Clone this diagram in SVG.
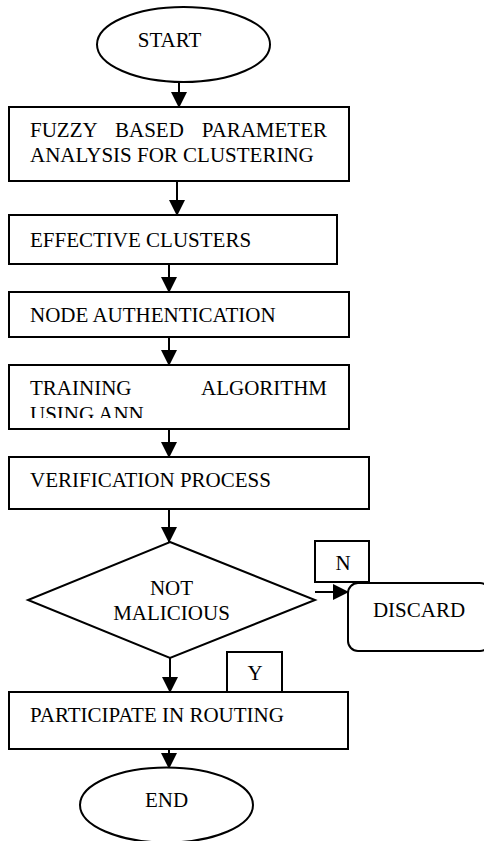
<svg xmlns="http://www.w3.org/2000/svg" width="484" height="841" viewBox="0 0 484 841">
<defs>
<style>
.s{fill:#fff;stroke:#000;stroke-width:2}
.t{font-family:"Liberation Serif","Times New Roman",serif;font-size:21px;fill:#000}
.m{text-anchor:middle}
.c{stroke:#000;stroke-width:2;fill:none}
</style>
<marker id="ah" viewBox="0 0 16 16" refX="15" refY="8" markerWidth="16" markerHeight="16" markerUnits="userSpaceOnUse" orient="auto">
<path d="M0,0 L16,8 L0,16 Z" fill="#000"/>
</marker>
<clipPath id="clipTrain"><rect x="9" y="365" width="340" height="53"/></clipPath>
</defs>
<rect width="484" height="841" fill="#fff"/>
<g id="connectors">
<line class="c" x1="179" y1="82" x2="179" y2="107" marker-end="url(#ah)"/>
<line class="c" x1="177" y1="181" x2="177" y2="215" marker-end="url(#ah)"/>
<line class="c" x1="169" y1="264" x2="169" y2="292" marker-end="url(#ah)"/>
<line class="c" x1="169" y1="337" x2="169" y2="365" marker-end="url(#ah)"/>
<line class="c" x1="169" y1="429" x2="169" y2="457" marker-end="url(#ah)"/>
<line class="c" x1="169" y1="509" x2="169" y2="542" marker-end="url(#ah)"/>
<line class="c" x1="315" y1="592" x2="348" y2="592" marker-end="url(#ah)"/>
<line class="c" x1="170" y1="652" x2="170" y2="692" marker-end="url(#ah)"/>
<line class="c" x1="169" y1="749" x2="169" y2="768" marker-end="url(#ah)"/>
</g>
<g id="start">
<ellipse class="s" cx="183.5" cy="44.5" rx="86.5" ry="37.5"/>
<text class="t m" x="169.5" y="47">START</text>
</g>
<g id="fuzzy">
<rect class="s" x="9" y="107" width="340" height="74"/>
<text class="t" x="30" y="137">FUZZY</text>
<text class="t" x="115" y="137">BASED</text>
<text class="t" x="327" y="137" text-anchor="end">PARAMETER</text>
<text class="t" x="30" y="162">ANALYSIS FOR CLUSTERING</text>
</g>
<g id="effective">
<rect class="s" x="9" y="215" width="328" height="49"/>
<text class="t" x="30" y="247">EFFECTIVE CLUSTERS</text>
</g>
<g id="node-auth">
<rect class="s" x="9" y="292" width="340" height="45"/>
<text class="t" x="30" y="322">NODE AUTHENTICATION</text>
</g>
<g id="training">
<rect class="s" x="9" y="365" width="340" height="64"/>
<g clip-path="url(#clipTrain)">
<text class="t" x="30" y="395">TRAINING</text>
<text class="t" x="327" y="395" text-anchor="end">ALGORITHM</text>
<text class="t" x="30" y="421">USING ANN</text>
</g>
</g>
<g id="verification">
<rect class="s" x="9" y="457" width="360" height="52"/>
<text class="t" x="30" y="487">VERIFICATION PROCESS</text>
</g>
<g id="decision">
<polygon class="s" points="170,542 315,600 170,658 28,600"/>
<text class="t m" x="171.5" y="595">NOT</text>
<text class="t m" x="171.5" y="620">MALICIOUS</text>
</g>
<g id="label-n">
<rect class="s" x="315" y="541" width="54" height="41"/>
<text class="t m" x="343" y="570">N</text>
</g>
<g id="discard">
<rect class="s" x="348" y="583" width="142" height="68" rx="10"/>
<text class="t m" x="419" y="617">DISCARD</text>
</g>
<g id="label-y">
<rect class="s" x="227" y="652" width="55" height="40"/>
<text class="t m" x="255" y="680">Y</text>
</g>
<g id="participate">
<rect class="s" x="9" y="692" width="339" height="57"/>
<text class="t" x="30" y="722">PARTICIPATE IN ROUTING</text>
</g>
<g id="end">
<ellipse class="s" cx="166.5" cy="805" rx="86.5" ry="37.5"/>
<text class="t m" x="166.5" y="807">END</text>
</g>
</svg>
